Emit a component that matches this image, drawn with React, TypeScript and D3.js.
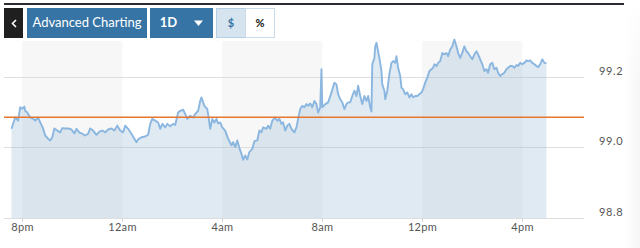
import React from "react";
import * as d3 from "d3";

// ---- data (minutes from 8pm, price) ----
const offsetsMin = [
  -26, -17, -12, -10, -5, 0, 5, 7, 12, 19, 26, 31, 38, 43, 50, 55, 62, 67, 72, 77, 84, 91, 96, 103, 110, 118, 125, 130, 137, 144, 151, 158, 163, 170, 178, 185, 192, 199, 206, 214, 221,
  228, 235, 242, 247, 254, 262, 269, 274, 278, 286, 295, 302, 307, 312, 319, 326, 331, 336, 343, 348, 355, 362, 367, 374, 379, 386, 391, 396, 403, 410, 415, 422, 427, 430, 437, 444, 446, 451, 456, 461, 466, 470, 475,
  480, 487, 494, 502, 506, 511, 516, 521, 526, 530, 535, 540, 545, 552, 557, 564, 569, 574, 578, 586, 590, 595, 600, 607, 612, 617, 622, 626, 631, 636, 641, 646, 653, 658, 662, 667, 672, 677, 682, 686, 691, 696, 701, 706, 710, 715, 718, 720, 727, 734,
  742, 749, 754, 758, 763, 768, 773, 778, 782, 787, 792, 797, 802, 806, 811, 816, 821, 826, 830, 835, 838, 840, 845, 847, 850, 854, 857, 862, 864, 869, 871, 876, 881, 886, 890, 895, 898, 902, 907, 910, 914, 919, 924, 929, 934, 938, 943, 948, 953, 958, 962, 967, 972, 977, 982, 986,
  989, 994, 998, 1003, 1008, 1013, 1018, 1022, 1027, 1032, 1037, 1042, 1046, 1051, 1056, 1061, 1066, 1070, 1075, 1080, 1085, 1090, 1094, 1099, 1104, 1109, 1114, 1118, 1123, 1128, 1133, 1138, 1142, 1147, 1152, 1157, 1162, 1166, 1171, 1176, 1181, 1186, 1190, 1195, 1200, 1205, 1210, 1214, 1219, 1224, 1229, 1234, 1238, 1243, 1248, 1253, 1258,
];
const prices = [
  99.053, 99.085, 99.079, 99.076, 99.114, 99.11, 99.116, 99.104, 99.099, 99.085, 99.082, 99.076, 99.085, 99.071, 99.054, 99.034, 99.025, 99.02, 99.029, 99.054, 99.048, 99.043, 99.055, 99.054, 99.054, 99.051, 99.04, 99.053, 99.042, 99.039, 99.034, 99.039, 99.054, 99.048, 99.036, 99.045, 99.048, 99.043, 99.051, 99.054, 99.048,
  99.062, 99.048, 99.043, 99.062, 99.053, 99.039, 99.025, 99.015, 99.023, 99.029, 99.031, 99.036, 99.067, 99.081, 99.076, 99.071, 99.053, 99.067, 99.057, 99.067, 99.06, 99.067, 99.064, 99.099, 99.104, 99.107, 99.095, 99.081, 99.09, 99.085, 99.095, 99.104, 99.132, 99.142, 99.118, 99.109, 99.095, 99.053, 99.081, 99.071, 99.081, 99.068, 99.071,
  99.057, 99.048, 99.025, 99.006, 99.015, 99.001, 99.02, 98.999, 98.982, 98.965, 98.977, 98.966, 98.987, 98.996, 99.018, 99.02, 99.048, 99.043, 99.057, 99.053, 99.062, 99.053, 99.076, 99.085, 99.076, 99.081, 99.067, 99.071, 99.048, 99.062, 99.067, 99.053, 99.043, 99.057, 99.081, 99.109, 99.118, 99.114, 99.123, 99.118, 99.125, 99.114, 99.132, 99.123, 99.099, 99.114, 99.222, 99.114, 99.123, 99.128,
  99.156, 99.184, 99.179, 99.151, 99.137, 99.128, 99.109, 99.123, 99.128, 99.128, 99.146, 99.161, 99.146, 99.175, 99.146, 99.123, 99.146, 99.132, 99.146, 99.114, 99.102, 99.236, 99.254, 99.287, 99.297, 99.273, 99.254, 99.217, 99.179, 99.161, 99.137, 99.161, 99.208, 99.24, 99.245, 99.24, 99.259, 99.226, 99.203, 99.17, 99.165, 99.151, 99.156, 99.142, 99.151, 99.142, 99.146, 99.146, 99.151, 99.156, 99.165, 99.184, 99.198, 99.217, 99.222, 99.226,
  99.236, 99.231, 99.24, 99.245, 99.268, 99.264, 99.268, 99.259, 99.278, 99.287, 99.306, 99.287, 99.268, 99.254, 99.268, 99.287, 99.273, 99.268, 99.259, 99.25, 99.264, 99.273, 99.264, 99.25, 99.236, 99.217, 99.222, 99.212, 99.236, 99.24, 99.222, 99.226, 99.212, 99.203, 99.208, 99.212, 99.222, 99.226, 99.231, 99.231, 99.226, 99.234, 99.231, 99.24, 99.236, 99.24, 99.247, 99.245, 99.247, 99.24, 99.236, 99.231, 99.228, 99.236, 99.25, 99.24, 99.239,
];
const referenceLevel = 99.086;
const yTicks = [98.8, 99.0, 99.2];
const yDomain = [98.8, 99.302];
const xTickHours = [0, 4, 8, 12, 16, 20]; // hours from 8pm
const xTickLabels = ["8pm", "12am", "4am", "8am", "12pm", "4pm"];
const shadedBands = [[0, 4], [8, 12], [16, 20]]; // hours from 8pm
const viewStartMin = -43.9;
const viewEndMin = 1348.1;

const base = new Date(2024, 0, 1, 20, 0, 0);
const at = (min: number) => new Date(base.getTime() + min * 60000);

const FONT = "Lato, 'Open Sans', sans-serif";

export default function App() {
  const W = 640, H = 248;
  const left = 4, right = 584, top = 41, bottom = 218;

  const x = d3.scaleTime().domain([at(viewStartMin), at(viewEndMin)]).range([left, right]);
  const y = d3.scaleLinear().domain(yDomain).range([bottom, top]);

  const pts = offsetsMin.map((m, i) => ({ t: at(m), v: prices[i] }));
  const line = d3.line<any>().x(d => x(d.t)).y(d => y(d.v)).curve(d3.curveLinear);
  const area = d3.area<any>().x(d => x(d.t)).y0(bottom).y1(d => y(d.v)).curve(d3.curveLinear);

  return (
    <svg width={W} height={H} style={{ position: "absolute", left: 0, top: 0, background: "#fff" }}
      fontFamily={FONT}>
      <defs>
        <linearGradient id="edge" x1="0" x2="1" y1="0" y2="0">
          <stop offset="0" stopColor="#000" stopOpacity="0" />
          <stop offset="1" stopColor="#000" stopOpacity="0.035" />
        </linearGradient>
        <linearGradient id="edgeV" x1="0" x2="0" y1="0" y2="1">
          <stop offset="0" stopColor="#fff" stopOpacity="1" />
          <stop offset="0.35" stopColor="#fff" stopOpacity="0" />
        </linearGradient>
      </defs>
      {/* top bar */}
      <rect x={4} y={3} width={620} height={2} fill="#2a2c31" />

      {/* shaded bands */}
      {shadedBands.map(([a, b], i) => (
        <rect key={i} x={x(at(a * 60))} y={top} width={x(at(b * 60)) - x(at(a * 60))} height={bottom - top} fill="#f7f7f7" />
      ))}

      {/* grid */}
      {yTicks.map(t => (
        <line key={t} x1={left} x2={right} y1={Math.round(y(t)) + 0.5} y2={Math.round(y(t)) + 0.5} stroke="#dedede" strokeWidth={1} />
      ))}

      {/* area + line */}
      <path d={area(pts) || ""} fill="rgb(140,180,208)" fillOpacity={0.28} />
      <path d={line(pts) || ""} fill="none" stroke="#8ab6e0" strokeWidth={1.9} strokeLinejoin="round" />

      {/* reference line */}
      <line x1={left} x2={right} y1={y(referenceLevel)} y2={y(referenceLevel)} stroke="#e8772e" strokeWidth={1.5} />

      {/* x ticks */}
      {xTickHours.map((h, i) => {
        const xx = Math.round(x(at(h * 60))) + 0.5;
        return (
          <g key={h}>
            <line x1={xx} x2={xx} y1={bottom} y2={bottom + 4} stroke="#d5d5d5" />
            <text x={xx} y={231} textAnchor="middle" fontSize={11} fill="#555" letterSpacing={0.3}>{xTickLabels[i]}</text>
          </g>
        );
      })}

      {/* y labels */}
      {yTicks.map(t => (
        <text key={t} x={599} y={y(t) - 2} fontSize={11} fill="#555" letterSpacing={0.6}>{d3.format(".1f")(t)}</text>
      ))}

      {/* right edge shade */}
      <rect x={624} y={0} width={16} height={H} fill="url(#edge)" />
      <rect x={624} y={0} width={16} height={H} fill="url(#edgeV)" />

      {/* buttons */}
      <rect x={4} y={8} width={19} height={30} fill="#1f1f1f" />
      <path d="M16,20 L12.5,23.5 L16,27" fill="none" stroke="#fff" strokeWidth={1.6} />
      <rect x={27} y={8} width={120} height={30} fill="#3674a5" />
      <text x={87} y={27} textAnchor="middle" fontSize={13} fill="#fff">Advanced Charting</text>
      <rect x={150} y={8} width={63} height={30} fill="#3674a5" />
      <text x={168.5} y={27} textAnchor="middle" fontSize={13} fontWeight={700} fill="#fff">1D</text>
      <path d="M194,20.5 L203,20.5 L198.5,26 Z" fill="#fff" />
      <rect x={216.5} y={8.5} width={29} height={29} fill="#d6e4f0" stroke="#b6cee4" />
      <text x={231} y={27} textAnchor="middle" fontSize={11} fontWeight={700} fill="#3674a5">$</text>
      <rect x={245.5} y={8.5} width={29} height={29} fill="#fff" stroke="#c9dbeb" />
      <text x={260} y={27} textAnchor="middle" fontSize={11} fontWeight={700} fill="#111">%</text>
    </svg>
  );
}
